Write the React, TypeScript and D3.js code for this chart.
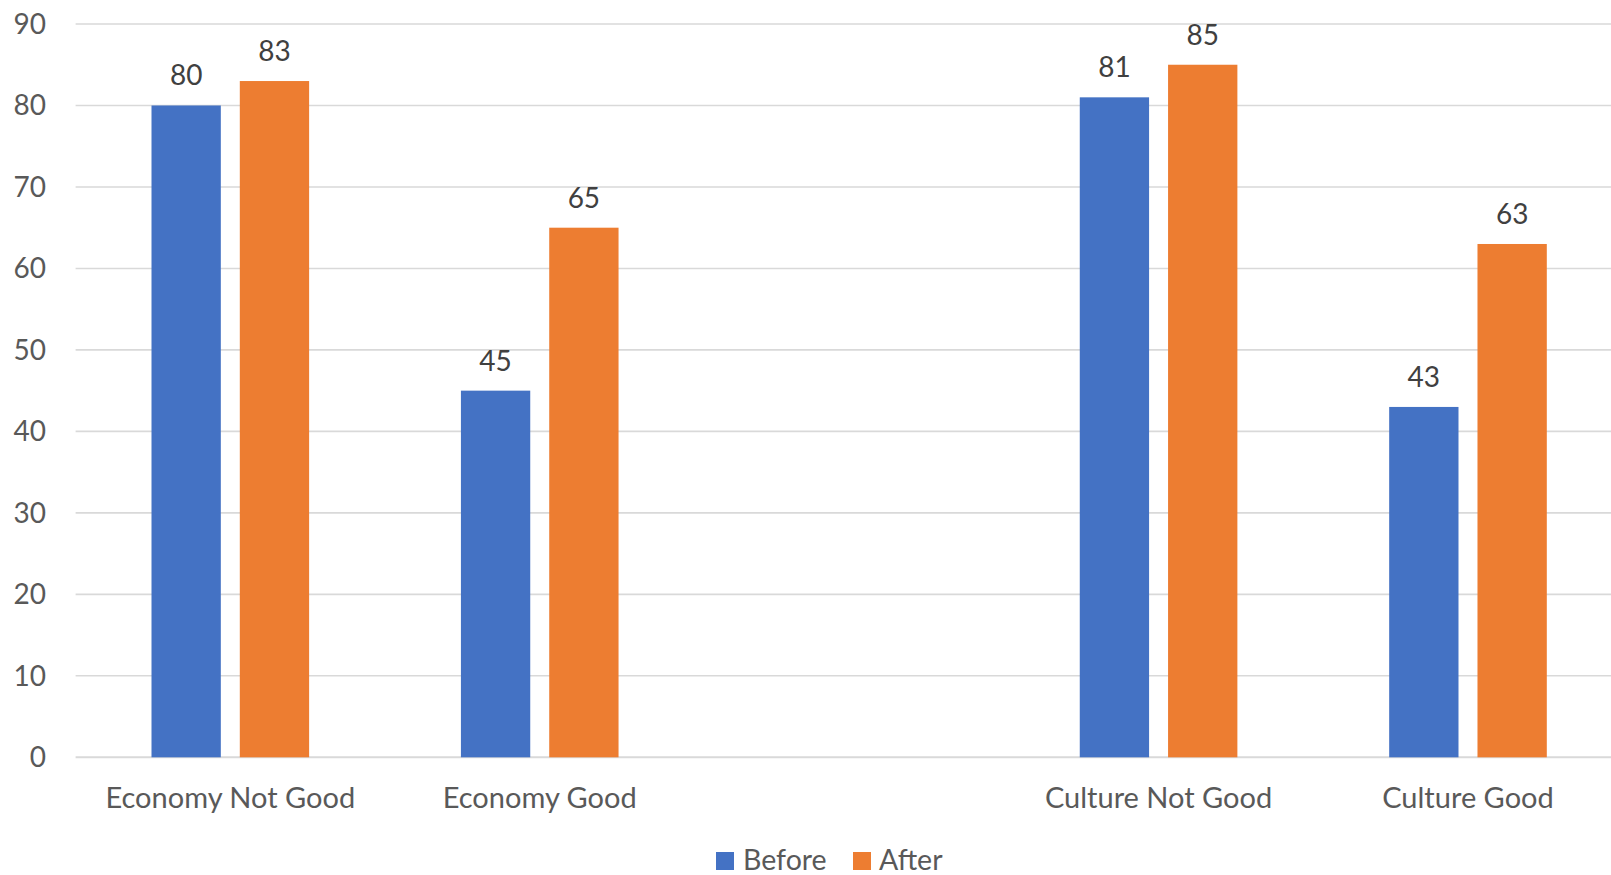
import React from "react";
import * as d3 from "d3";

const categories = ["Economy Not Good", "Economy Good", "", "Culture Not Good", "Culture Good"];
const seriesNames = ["Before", "After"];
const beforeValues: (number | null)[] = [80, 45, null, 81, 43];
const afterValues: (number | null)[] = [83, 65, null, 85, 63];
const yTicks = [0, 10, 20, 30, 40, 50, 60, 70, 80, 90];
const colors = ["#4472C4", "#ED7D31"];

const W = 1611;
const H = 875;
const FONT = "Lato, 'Open Sans', sans-serif";
const TEXT = "#595959";

export default function App() {
  const plotLeft = 75.6;
  const plotRight = 1622.7;
  const yTop = 24;
  const yBottom = 757.3;

  const x0 = d3.scaleBand<number>().domain(d3.range(categories.length)).range([plotLeft, plotRight]).paddingInner(0).paddingOuter(0);
  const groupW = x0.bandwidth() * 0.5094;
  const gOff = (x0.bandwidth() - groupW) / 2;
  const x1 = d3.scaleBand<string>().domain(seriesNames).range([gOff, gOff + groupW]).paddingInner(0.215).paddingOuter(0);
  const y = d3.scaleLinear().domain([0, 90]).range([yBottom, yTop]);
  const seriesValues = [beforeValues, afterValues];

  return (
    <svg width={W} height={H} style={{ position: "absolute", left: 0, top: 0, background: "#fff" }} fontFamily={FONT}>
      {yTicks.map((t) => (
        <g key={t}>
          <line x1={plotLeft} x2={W} y1={y(t)} y2={y(t)} stroke="#D9D9D9" strokeWidth={t === 0 ? 2 : 1.6} />
          <text x={46} y={y(t)} dy="0.35em" textAnchor="end" fontSize={28} fill={TEXT}>{t}</text>
        </g>
      ))}
      {categories.map((c, i) => (
        <g key={i}>
          {seriesNames.map((s, si) => {
            const v = seriesValues[si][i];
            if (v == null) return null;
            const bx = (x0(i) as number) + (x1(s) as number);
            const bw = x1.bandwidth();
            return (
              <g key={s}>
                <rect x={bx} y={y(v)} width={bw} height={y(0) - y(v)} fill={colors[si]} />
                <text x={bx + bw / 2} y={y(v) - 20} textAnchor="middle" fontSize={28} fill="#404040">{v}</text>
              </g>
            );
          })}
          {c && (
            <text x={(x0(i) as number) + x0.bandwidth() / 2} y={808} textAnchor="middle" fontSize={29} fill={TEXT}>{c}</text>
          )}
        </g>
      ))}
      <g>
        <rect x={716} y={852} width={18} height={18} fill={colors[0]} />
        <text x={743} y={870} fontSize={28.5} fill={TEXT}>{seriesNames[0]}</text>
        <rect x={853} y={852} width={18} height={18} fill={colors[1]} />
        <text x={879} y={870} fontSize={28.5} fill={TEXT}>{seriesNames[1]}</text>
      </g>
    </svg>
  );
}
